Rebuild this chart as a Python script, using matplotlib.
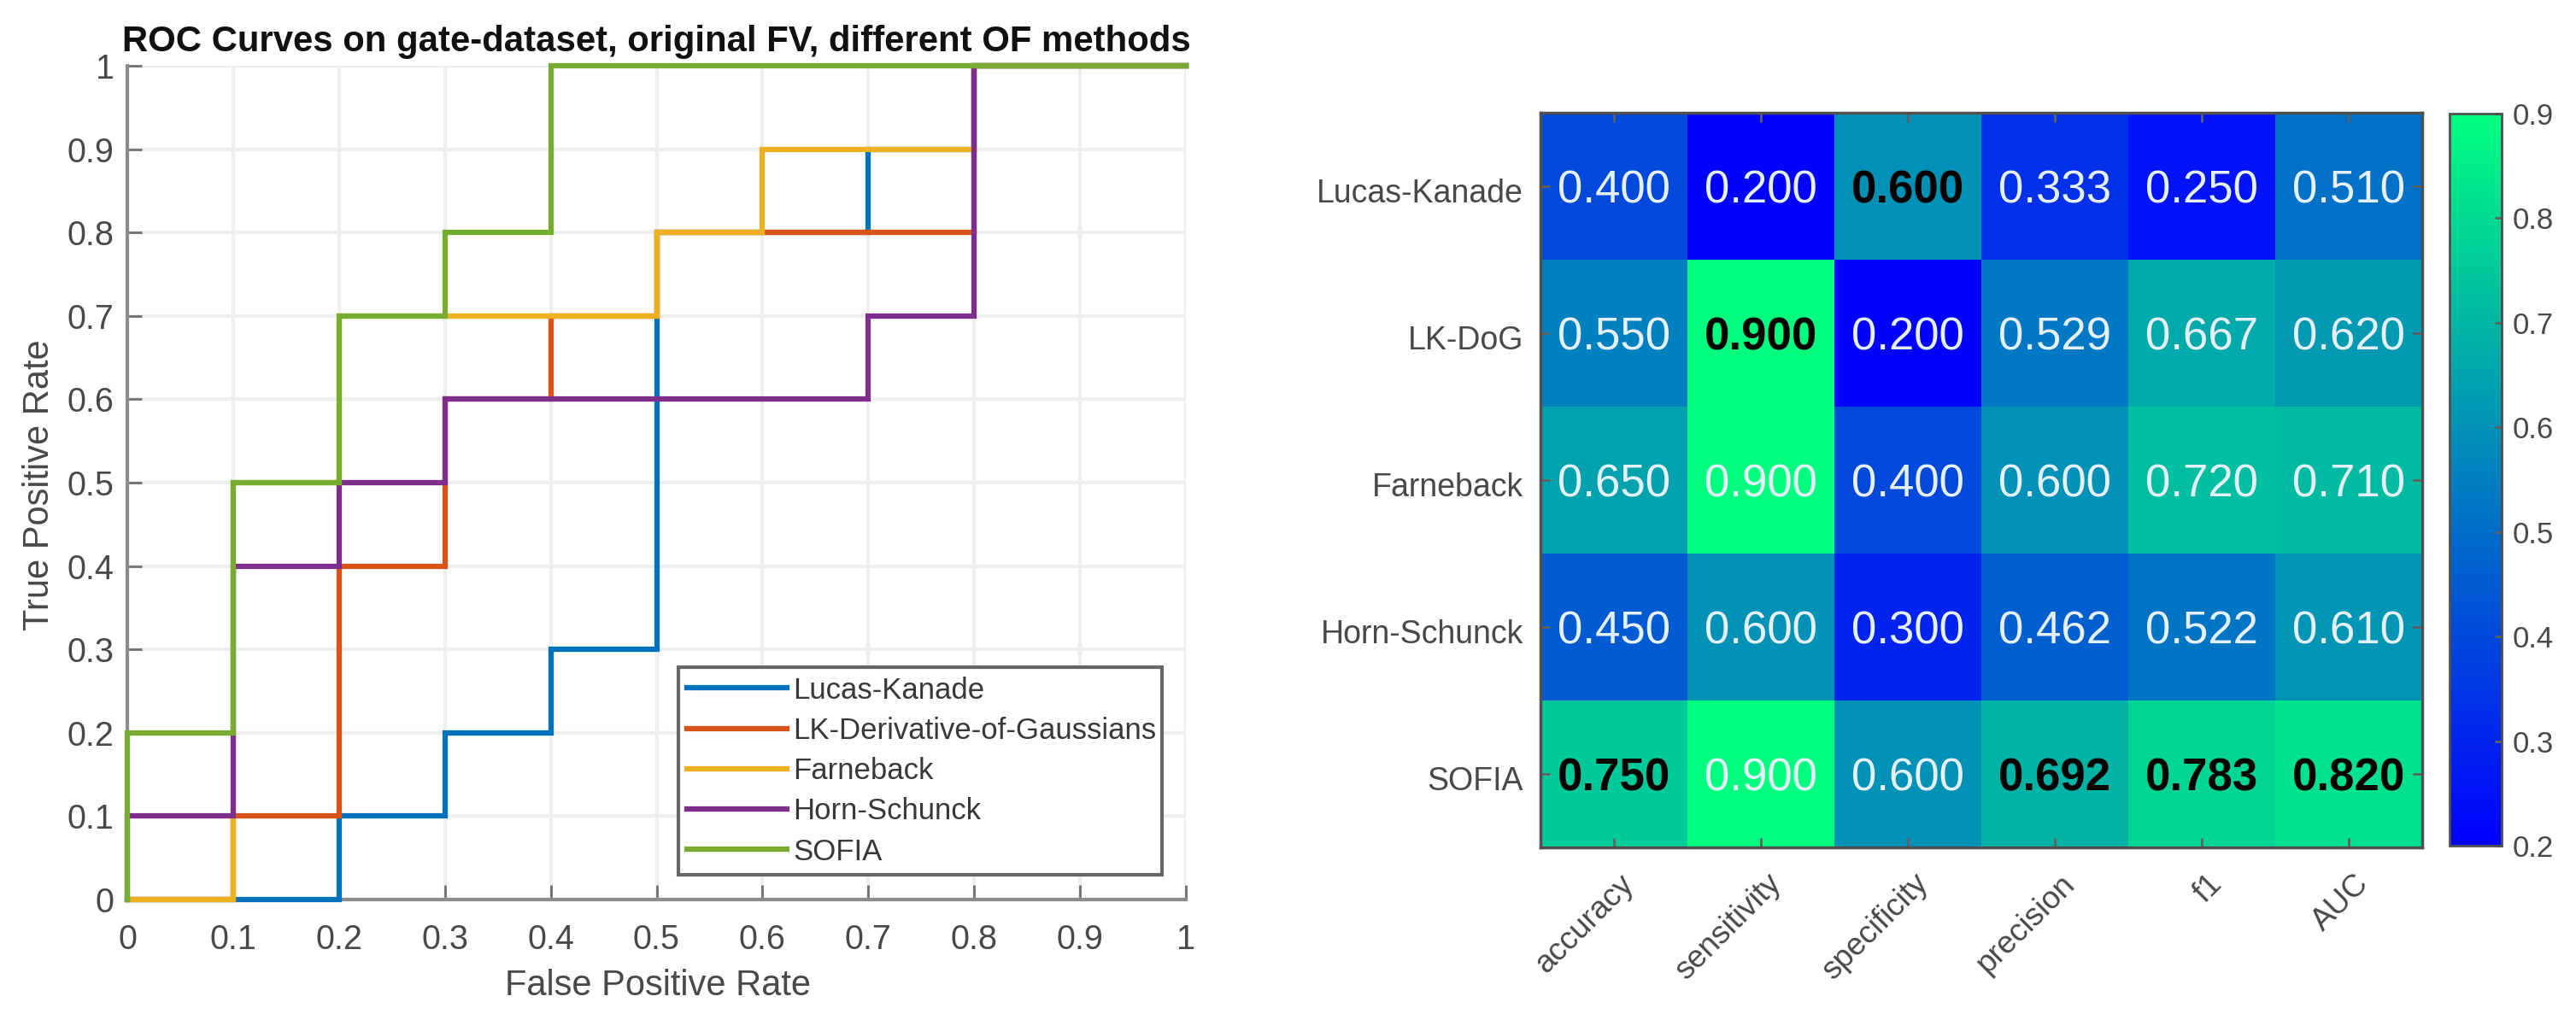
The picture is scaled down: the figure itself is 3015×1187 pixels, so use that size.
import numpy as np
import matplotlib
matplotlib.use("Agg")
import matplotlib.pyplot as plt
from matplotlib.transforms import ScaledTranslation

W, H = 3015, 1187
plt.rcParams['font.family'] = ['Liberation Sans', 'DejaVu Sans']

# ROC curves, drawn in this order
roc_names = ['Lucas-Kanade', 'LK-Derivative-of-Gaussians', 'Farneback', 'Horn-Schunck', 'SOFIA']
roc_colors = ['#0072BD', '#D95319', '#EDB120', '#7E2F8E', '#77AC30']
lk_fpr = [0, 0.2, 0.2, 0.3, 0.3, 0.4, 0.4, 0.5, 0.5, 0.7, 0.7, 0.8, 0.8, 1]
lk_tpr = [0, 0, 0.1, 0.1, 0.2, 0.2, 0.3, 0.3, 0.8, 0.8, 0.9, 0.9, 1, 1]
dog_fpr = [0, 0.1, 0.1, 0.2, 0.2, 0.3, 0.3, 0.4, 0.4, 0.5, 0.5, 0.8, 0.8, 1]
dog_tpr = [0, 0, 0.1, 0.1, 0.4, 0.4, 0.6, 0.6, 0.7, 0.7, 0.8, 0.8, 1, 1]
farne_fpr = [0, 0.1, 0.1, 0.2, 0.2, 0.5, 0.5, 0.6, 0.6, 0.8, 0.8, 1]
farne_tpr = [0, 0, 0.5, 0.5, 0.7, 0.7, 0.8, 0.8, 0.9, 0.9, 1, 1]
horn_fpr = [0, 0, 0.1, 0.1, 0.2, 0.2, 0.3, 0.3, 0.7, 0.7, 0.8, 0.8, 1]
horn_tpr = [0, 0.1, 0.1, 0.4, 0.4, 0.5, 0.5, 0.6, 0.6, 0.7, 0.7, 1, 1]
sofia_fpr = [0, 0, 0.1, 0.1, 0.2, 0.2, 0.3, 0.3, 0.4, 0.4, 1]
sofia_tpr = [0, 0.2, 0.2, 0.5, 0.5, 0.7, 0.7, 0.8, 0.8, 1, 1]
roc_x = [lk_fpr, dog_fpr, farne_fpr, horn_fpr, sofia_fpr]
roc_y = [lk_tpr, dog_tpr, farne_tpr, horn_tpr, sofia_tpr]
roc_ticks = [0, 0.1, 0.2, 0.3, 0.4, 0.5, 0.6, 0.7, 0.8, 0.9, 1]
roc_ticklabels = ['0', '0.1', '0.2', '0.3', '0.4', '0.5', '0.6', '0.7', '0.8', '0.9', '1']

# heatmap
methods = ['Lucas-Kanade', 'LK-DoG', 'Farneback', 'Horn-Schunck', 'SOFIA']
metrics = ['accuracy', 'sensitivity', 'specificity', 'precision', 'f1', 'AUC']
scores = [[0.400, 0.200, 0.600, 0.333, 0.250, 0.510],
          [0.550, 0.900, 0.200, 0.529, 0.667, 0.620],
          [0.650, 0.900, 0.400, 0.600, 0.720, 0.710],
          [0.450, 0.600, 0.300, 0.462, 0.522, 0.610],
          [0.750, 0.900, 0.600, 0.692, 0.783, 0.820]]
best = [[0, 0, 1, 0, 0, 0],
        [0, 1, 0, 0, 0, 0],
        [0, 0, 0, 0, 0, 0],
        [0, 0, 0, 0, 0, 0],
        [1, 0, 0, 1, 1, 1]]
cbar_ticks = [0.2, 0.3, 0.4, 0.5, 0.6, 0.7, 0.8, 0.9]

GREY = '#484848'


def box(x0, y0, x1, y1):
    # pixel box (from top left) to figure fractions
    return [x0 / W, 1 - y1 / H, (x1 - x0) / W, (y1 - y0) / H]


fig = plt.figure(figsize=(W / 100, H / 100), dpi=100)

# left panel
ax = fig.add_axes(box(149, 77, 1388, 1053))
for xs, ys, name, col in zip(roc_x, roc_y, roc_names, roc_colors):
    ax.plot(xs, ys, color=col, lw=4.5, label=name, clip_on=False,
            solid_joinstyle='miter', zorder=3)
ax.set_xlim(0, 1)
ax.set_ylim(0, 1)
ax.set_xticks(roc_ticks)
ax.set_xticklabels(roc_ticklabels)
ax.set_yticks(roc_ticks)
ax.set_yticklabels(roc_ticklabels)
ax.grid(True, color='#eeeeee', lw=3)
ax.set_axisbelow(True)
ax.spines['top'].set_visible(False)
ax.spines['right'].set_visible(False)
for s in ['left', 'bottom']:
    ax.spines[s].set_color('#8c8c8c')
    ax.spines[s].set_linewidth(3)
ax.tick_params(direction='in', length=12, width=2, color='#707070',
               labelcolor=GREY, labelsize=28.5)
ax.tick_params(axis='x', pad=20.5)
ax.tick_params(axis='y', pad=11)
ax.set_xlabel('False Positive Rate', fontsize=30, color=GREY, labelpad=10.5, x=0.501)
ax.set_ylabel('True Positive Rate', fontsize=30, color=GREY, labelpad=9.5, y=0.497)
ax.set_title('ROC Curves on gate-dataset, original FV, different OF methods',
             fontsize=30.2, fontweight='bold', color='#111111', pad=12)
leg = ax.legend(loc='lower left', bbox_to_anchor=box(794, 779, 1360, 1024),
                bbox_transform=fig.transFigure, mode='expand', fontsize=25,
                fancybox=False, framealpha=1, edgecolor='#666666',
                labelcolor='#383838', handlelength=3.37, handletextpad=0.2,
                labelspacing=0.41, borderpad=0.3, borderaxespad=0)
leg.get_frame().set_linewidth(3)
leg.set_zorder(5)

# right panel
ax2 = fig.add_axes(box(1803, 132, 2835, 992))
im = ax2.imshow(scores, cmap='winter', vmin=0.2, vmax=0.9, aspect='auto')
ax2.set_xticks(range(len(metrics)))
ax2.set_xticklabels(metrics, rotation=45, ha='right', rotation_mode='anchor', fontsize=26.5)
ax2.set_yticks(range(len(methods)))
ax2.set_yticklabels(methods, fontsize=27)
ax2.tick_params(axis='both', direction='in', length=8, width=2, color='#606060',
                labelcolor=GREY, top=True, right=True)
ax2.tick_params(axis='x', pad=18)
ax2.tick_params(axis='y', pad=14.5)
# the slanted labels sit a little to the right of their ticks
nudge = ScaledTranslation(6 / 100, 0, fig.dpi_scale_trans)
for lbl in ax2.get_xticklabels():
    lbl.set_transform(lbl.get_transform() + nudge)
# row labels and cell values sit slightly below the cell centres
nudge_down = ScaledTranslation(0, -5 / 100, fig.dpi_scale_trans)
for lbl in ax2.get_yticklabels():
    lbl.set_transform(lbl.get_transform() + nudge_down)
for s in ax2.spines.values():
    s.set_color('#505050')
    s.set_linewidth(2.5)
for i, row in enumerate(scores):
    for j, v in enumerate(row):
        if best[i][j]:
            ax2.text(j, i, f'{v:.3f}', ha='center', va='center', fontsize=38,
                     fontweight='bold', color='black',
                     transform=ax2.transData + nudge_down)
        else:
            ax2.text(j, i, f'{v:.3f}', ha='center', va='center', fontsize=38,
                     color='#e6f0f8', transform=ax2.transData + nudge_down)

# colorbar
cax = fig.add_axes(box(2867, 133, 2928, 990))
cb = fig.colorbar(im, cax=cax)
cb.set_ticks(cbar_ticks)
cb.ax.set_yticklabels([f'{t:.1f}' for t in cbar_ticks])
cb.ax.tick_params(direction='in', length=6, width=2, color='#606060',
                  labelcolor=GREY, labelsize=25, pad=9)
cb.outline.set_edgecolor('#505050')
cb.outline.set_linewidth(2)

fig.savefig('out.png', dpi=100, facecolor='white')
